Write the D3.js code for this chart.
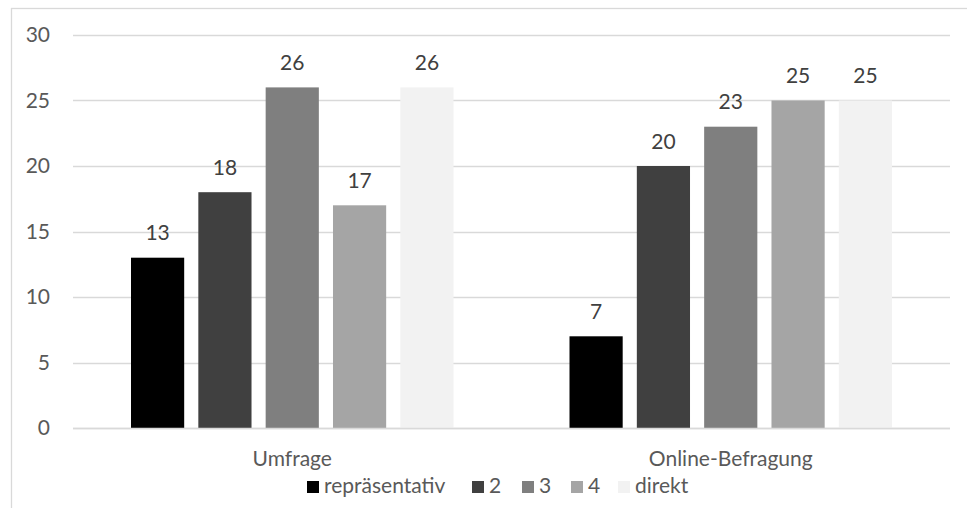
<!DOCTYPE html>
<html><head><meta charset="utf-8">
<script src="https://cdn.jsdelivr.net/npm/d3@7"></script>
<style>body{margin:0;background:#fff;} svg{display:block;font-family:Lato,"Open Sans",sans-serif;}</style>
</head><body>
<svg id="c" width="967" height="508"></svg>
<script>
const categories = ["Umfrage", "Online-Befragung"];
const seriesNames = ["repräsentativ", "2", "3", "4", "direkt"];
const seriesColors = ["#000000", "#404040", "#7f7f7f", "#a5a5a5", "#f2f2f2"];
const valuesUmfrage = [13, 18, 26, 17, 26];
const valuesOnline = [7, 20, 23, 25, 25];
const yTicks = [0, 5, 10, 15, 20, 25, 30];

(function () {
const data = [valuesUmfrage, valuesOnline];
const svg = d3.select("#c");
const pL = 73, pR = 950, pT = 35, pB = 428;
const fs = 21;

svg.append("rect").attr("x", 11.5).attr("y", 8.5).attr("width", 970).attr("height", 520)
  .attr("fill", "#fff").attr("stroke", "#d9d9d9").attr("stroke-width", 1.3);

const y = d3.scaleLinear().domain([0, 30]).range([pB, pT]);
const x0 = d3.scaleBand().domain(categories).range([pL, pR]).paddingInner(0).paddingOuter(0);
const x1 = d3.scaleBand().domain(seriesNames).range([58, x0.bandwidth() - 58]).paddingInner(0.21).paddingOuter(0);

svg.append("g").selectAll("line").data(yTicks).join("line")
  .attr("x1", pL).attr("x2", pR)
  .attr("y1", d => Math.round(y(d)) + 0.5).attr("y2", d => Math.round(y(d)) + 0.5)
  .attr("stroke", "#d9d9d9").attr("stroke-width", 1.3);

const yAxis = d3.axisLeft(y).tickValues(yTicks).tickSize(0).tickPadding(0);
const ga = svg.append("g").attr("transform", `translate(50,0)`).call(yAxis);
ga.select(".domain").remove();
ga.selectAll("text").attr("font-size", fs).attr("fill", "#595959").attr("font-family", "Lato");

const groups = svg.append("g").selectAll("g").data(categories).join("g")
  .attr("transform", d => `translate(${x0(d)},0)`);
groups.selectAll("rect").data((c, i) => data[i].map((v, j) => ({ s: seriesNames[j], v, j })))
  .join("rect")
  .attr("x", d => x1(d.s)).attr("width", x1.bandwidth())
  .attr("y", d => y(d.v)).attr("height", d => y(0) - y(d.v))
  .attr("fill", d => seriesColors[d.j]);
groups.selectAll("text").data((c, i) => data[i].map((v, j) => ({ s: seriesNames[j], v, j })))
  .join("text")
  .attr("x", d => x1(d.s) + x1.bandwidth() / 2).attr("y", d => y(d.v) - 17.5)
  .attr("text-anchor", "middle").attr("font-size", fs).attr("fill", "#404040")
  .text(d => d.v);

svg.append("line").attr("x1", pL).attr("x2", pR).attr("y1", Math.round(y(0)) + 0.5).attr("y2", Math.round(y(0)) + 0.5)
  .attr("stroke", "#d9d9d9").attr("stroke-width", 1.3);

const xAxis = d3.axisBottom(x0).tickSize(0).tickPadding(0);
const gx = svg.append("g").attr("transform", `translate(0,${pB})`).call(xAxis);
gx.select(".domain").remove();
gx.selectAll("text").attr("dy", null).attr("y", 38).attr("font-size", fs).attr("fill", "#595959").attr("font-family", "Lato");

const legendX = [307, 472, 522, 571, 618];
const lg = svg.append("g").selectAll("g").data(seriesNames).join("g")
  .attr("transform", (d, i) => `translate(${legendX[i]},481)`);
lg.append("rect").attr("width", 12).attr("height", 12).attr("fill", (d, i) => seriesColors[i]);
lg.append("text").attr("x", 17).attr("y", 12).attr("font-size", fs).attr("fill", "#595959").text(d => d);
})();
</script>
</body></html>
